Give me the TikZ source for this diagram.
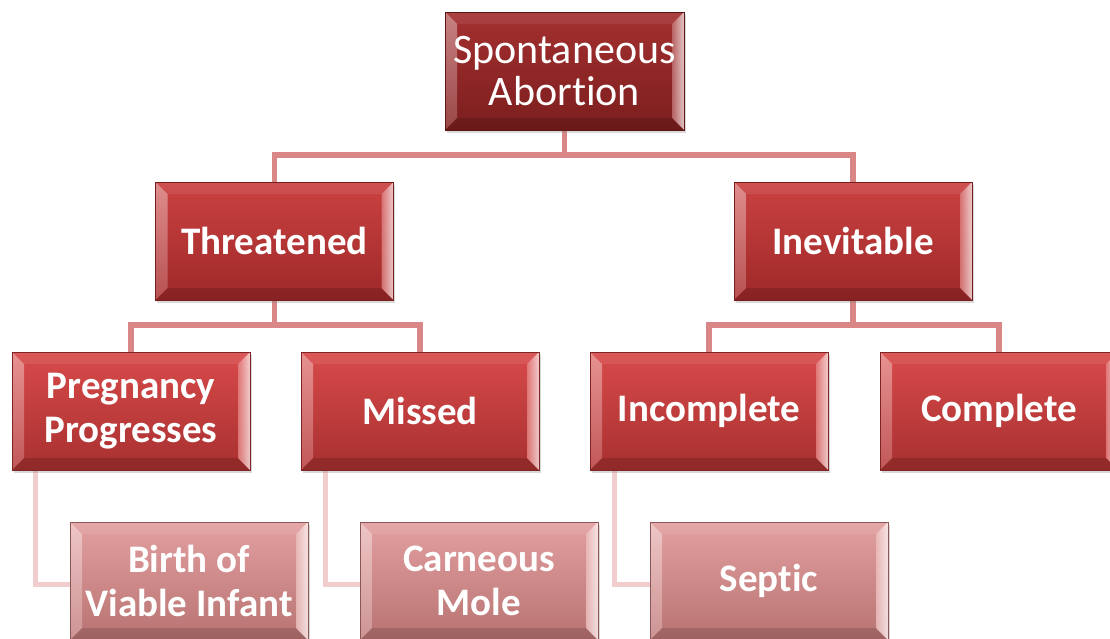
\documentclass[tikz,border=0pt]{standalone}
\usepackage{fontspec}
\setmainfont{Carlito}[Ligatures={NoCommon,NoRare,NoDiscretionary}]
\usetikzlibrary{backgrounds,shadows}
\definecolor{lvAtop}{HTML}{A43030}
\definecolor{lvAbot}{HTML}{7C1E1E}
\definecolor{lvBtop}{HTML}{CB4242}
\definecolor{lvBbot}{HTML}{9E2828}
\definecolor{lvCtop}{HTML}{D84A4A}
\definecolor{lvCbot}{HTML}{A83030}
\definecolor{lvDtop}{HTML}{E3A0A0}
\definecolor{lvDbot}{HTML}{B87272}
\definecolor{connA}{HTML}{D98686}
\definecolor{connB}{HTML}{F2CDCD}
\tikzset{
  x=1pt, y=-1pt,
  bevel/.style={path picture={
    \path (path picture bounding box.north west) coordinate (pnw)
          (path picture bounding box.south east) coordinate (pse);
    \path ([xshift=12pt,yshift=-12pt]pnw) coordinate (inw)
          ([xshift=-12pt,yshift=12pt]pse) coordinate (ise);
    \path (pnw -| pse) coordinate (pne) (pse -| pnw) coordinate (psw)
          (inw -| ise) coordinate (ine) (ise -| inw) coordinate (isw);
    \shade[top color=white, bottom color=white!40!#1, opacity=0.4]
      (pnw) -- (inw) -- (isw) -- (psw) -- cycle;
    \shade[left color=#1!70!white, right color=white!85!#1, opacity=0.85]
      (pne) -- (ine) -- (ise) -- (pse) -- cycle;
    \fill[white, opacity=0.08] (pnw) -- (pne) -- (ine) -- (inw) -- cycle;
    \fill[black, opacity=0.14] (psw) -- (pse) -- (ise) -- (isw) -- cycle;
  }},
  box/.style n args={2}{rectangle, minimum width=238pt, minimum height=118pt,
    inner sep=0pt, top color=#1, bottom color=#2, draw=#2!75!black,
    line width=0.6pt, text=white, align=center,
    font=\fontsize{39}{44}\selectfont\bfseries,
    drop shadow={opacity=0.3, shadow xshift=1.5pt, shadow yshift=-2.5pt},
    bevel=#1},
  conn/.style={draw=connA, line width=5.5pt},
  connlight/.style={draw=connB, line width=5pt},
}
\begin{document}
\begin{tikzpicture}
\useasboundingbox (0,0) rectangle (1110,638);
\clip (0,0) rectangle (1110,638);
\node[box={lvAtop}{lvAbot}, minimum width=239pt,
      font=\fontsize{42}{42}\selectfont] (top) at (564.5,71) {Spontaneous\\Abortion};
\node[box={lvBtop}{lvBbot}] (threat) at (274.5,241) {Threatened};
\node[box={lvBtop}{lvBbot}] (inev) at (853,241) {Inevitable};
\node[box={lvCtop}{lvCbot}] (preg) at (131,411) {Pregnancy\\Progresses};
\node[box={lvCtop}{lvCbot}] (missed) at (420,411) {Missed};
\node[box={lvCtop}{lvCbot}] (incomp) at (709,411) {Incomplete};
\node[box={lvCtop}{lvCbot}] (comp) at (999,411) {Complete};
\node[box={lvDtop}{lvDbot}] (birth) at (189,581) {Birth of\\Viable Infant};
\node[box={lvDtop}{lvDbot}] (mole) at (479,581) {Carneous\\Mole};
\node[box={lvDtop}{lvDbot}] (septic) at (769,581) {Septic};
\begin{scope}[on background layer]
  \coordinate (j1) at (564.5,155);
  \coordinate (j2) at (274.5,325);
  \coordinate (j3) at (853,325);
  \draw[conn] (top.south) -- (j1) -| (threat.north);
  \draw[conn] (j1) -| (inev.north);
  \draw[conn] (threat.south) -- (j2) -| (preg.north);
  \draw[conn] (j2) -| (missed.north);
  \draw[conn] (inev.south) -- (j3) -| (incomp.north);
  \draw[conn] (j3) -| (comp.north);
  \draw[connlight] ([xshift=24pt]preg.south west) |- ([yshift=-3pt]birth.west);
  \draw[connlight] ([xshift=25pt]missed.south west) |- ([yshift=-3pt]mole.west);
  \draw[connlight] ([xshift=25pt]incomp.south west) |- ([yshift=-3pt]septic.west);
\end{scope}
\end{tikzpicture}
\end{document}
